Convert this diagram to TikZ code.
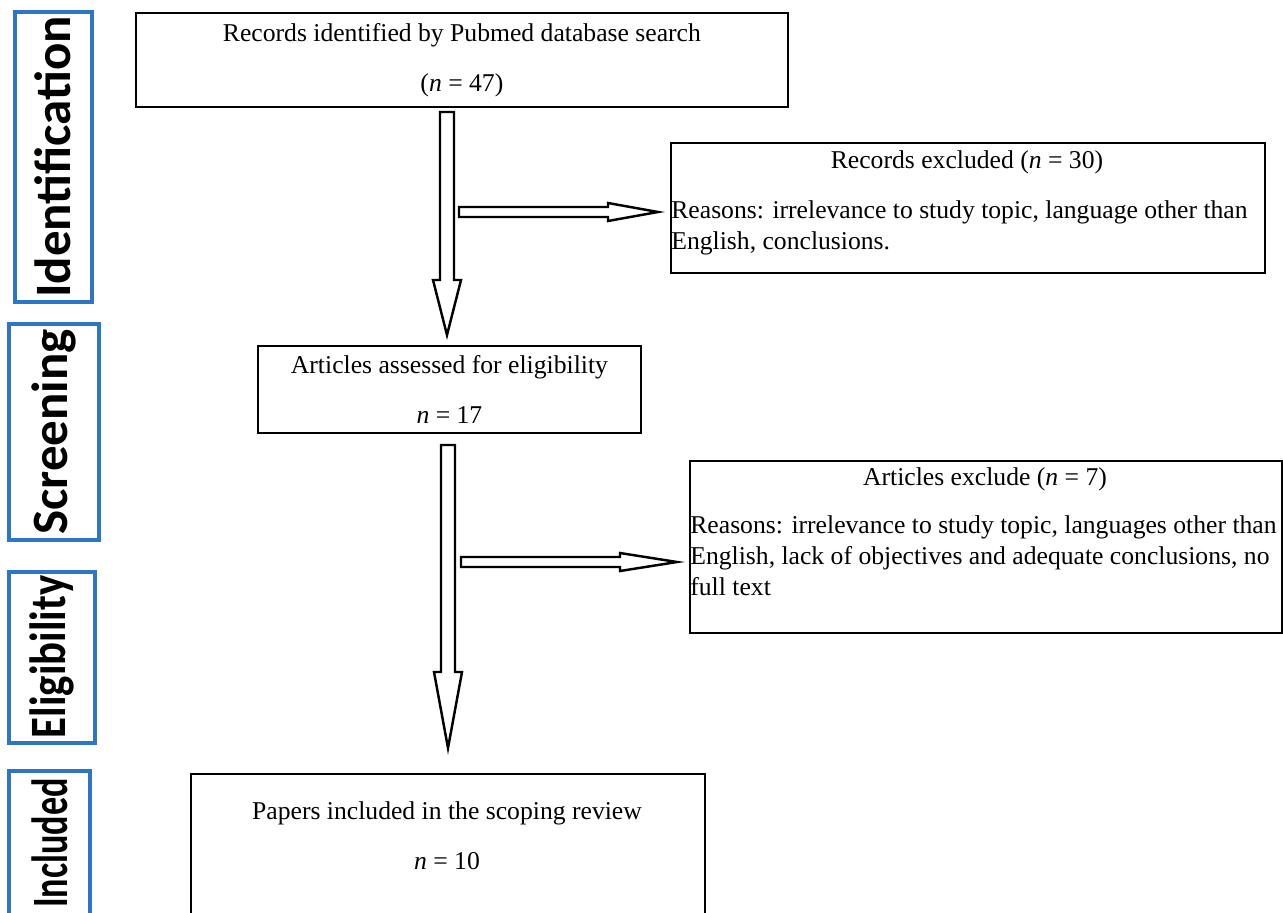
\documentclass[tikz,border=0pt]{standalone}
\usepackage{fontspec}
\setmainfont{Liberation Serif}
\newfontfamily\stagefont{Carlito}
\usetikzlibrary{positioning}

\definecolor{stageblue}{RGB}{46,117,198}

\tikzset{
  box/.style={draw, line width=1.1pt, inner sep=0pt, anchor=north west},
  stage/.style={draw=stageblue, line width=2.3pt},
  stagetext/.style={rotate=90, inner sep=0pt, font=\stagefont\bfseries\fontsize{29}{30}\selectfont},
  why/.style={anchor=north west, align=left, inner sep=0pt},
  hollow/.style={draw, line width=1.4pt, fill=white, line join=miter},
  pics/vblock/.style 2 args={code={
    \draw[hollow] (-7,0) -- (-7,#1-#2) -- (-14,#1-#2) -- (0,#1) -- (14,#1-#2) -- (7,#1-#2) -- (7,0) -- cycle;}},
  pics/hblock/.style 2 args={code={
    \draw[hollow] (0,-5) -- (#1-#2,-5) -- (#1-#2,-9) -- (#1,0) -- (#1-#2,9) -- (#1-#2,5) -- (0,5) -- cycle;}}
}

\begin{document}
\begin{tikzpicture}[x=0.02cm, y=-0.02cm, font=\fontsize{14.6}{17.6}\selectfont]
  \useasboundingbox (0,0) rectangle (1283,912);
  \clip (0,0) rectangle (1283,912);

  % stages on the left
  \draw[stage] (15,12) rectangle (92,302);
  \draw[stage] (9,324) rectangle (99,540);
  \draw[stage] (9,572) rectangle (95,743);
  \draw[stage] (9,771) rectangle (90,960);
  \node[stagetext] (ident) at (53,157) {Identification};
  \node[stagetext] (screen) at (54,432) {Screening};
  \node[stagetext] (elig) at (52,657) {\scalebox{0.84}[1]{Eligibility}};
  \node[stagetext, anchor=east] (incl) at (50,778) {\scalebox{0.71}[1]{Included}};

  % boxes
  \node[box, minimum width=13.04cm, minimum height=1.88cm, align=center] (search) at (135,12)
    {Records identified by Pubmed database search\\[11pt](\textit{n} = 47)};
  \node[box, minimum width=11.88cm, minimum height=2.6cm] (recexcl) at (670,142) {};
  \node (recexcltitle) at (967,162) {Records excluded (\textit{n} = 30)};
  \node[why] (recexclwhy) at (671,200)
    {Reasons: irrelevance to study topic, language other than\\English, conclusions.};

  \node[box, minimum width=7.66cm, minimum height=1.74cm, align=center] (assess) at (257,345)
    {Articles assessed for eligibility\\[11pt]\textit{n} = 17};

  \node[box, minimum width=11.84cm, minimum height=3.44cm] (artexcl) at (689,460) {};
  \node (artexcltitle) at (985,479) {Articles exclude (\textit{n} = 7)};
  \node[why] (artexclwhy) at (690,515)
    {Reasons: irrelevance to study topic, languages other than\\English, lack of objectives and adequate conclusions, no\\full text};

  \node[box, minimum width=10.28cm, minimum height=3.6cm] (included) at (190,773) {};
  \node[align=center] (includedtext) at (447,836)
    {Papers included in the scoping review\\[11pt]\textit{n} = 10};

  % block arrows
  \coordinate (down1) at (447,112);
  \coordinate (down2) at (448,445);
  \coordinate (side1) at (459,212);
  \coordinate (side2) at (461,562);
  \pic at (down1) {vblock={223}{55}};
  \pic at (down2) {vblock={303}{76}};
  \pic at (side1) {hblock={199}{50}};
  \pic at (side2) {hblock={216}{57}};
\end{tikzpicture}
\end{document}
